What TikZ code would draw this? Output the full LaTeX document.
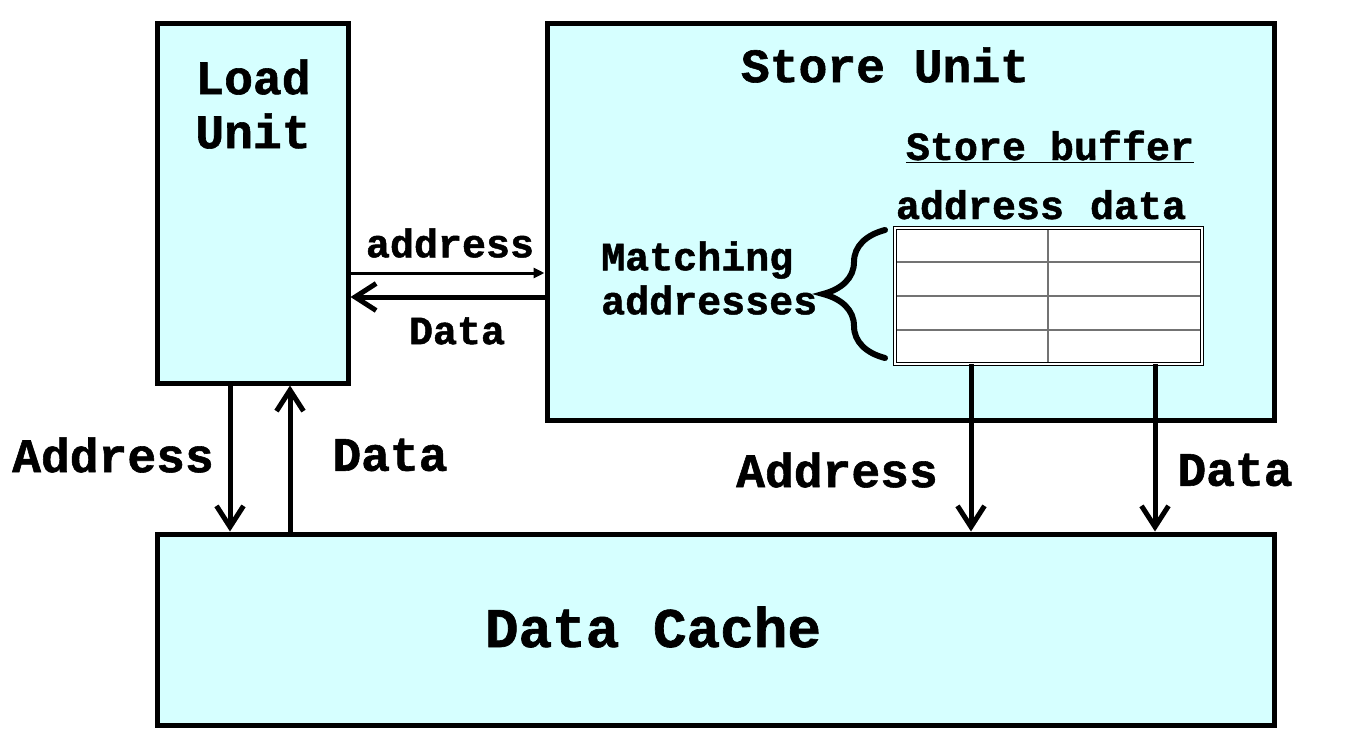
\documentclass[tikz,border=0pt]{standalone}
\usepackage{fontspec}
\setmonofont{Liberation Mono}[BoldFeatures={FakeBold=1.2}]
\usetikzlibrary{arrows.meta,decorations.pathreplacing}
\definecolor{unitfill}{RGB}{214,255,255}

\begin{document}
\begin{tikzpicture}[x=1pt,y=-1pt,
  unit/.style={draw, line width=5pt, fill=unitfill, inner sep=0pt},
  big/.style={font=\ttfamily\bfseries\fontsize{48}{54}\selectfont, align=center, inner sep=0pt},
  small/.style={font=\ttfamily\bfseries\fontsize{40}{44}\selectfont, align=left, inner sep=0pt},
  bus/.style={line width=5pt, -{Straight Barb[length=21pt,width=27pt]}},
  thinbus/.style={line width=3pt, -{Triangle[length=11pt,width=10pt]}},
  cellline/.style={draw=black!55, line width=2pt}]
  \fill[white] (0,0) rectangle (1352,752);
  \useasboundingbox (0,0) rectangle (1352,752);

  % units
  \node[unit, minimum width=191pt, minimum height=359pt] (load) at (252.5,203.5) {};
  \node[unit, minimum width=727pt, minimum height=396pt] (store) at (910.5,222) {};
  \node[unit, minimum width=1117pt, minimum height=191pt] (cache) at (715.5,629.5) {};

  \node[big] (loadtxt) at (253,104) {Load\\Unit};
  \node[big] (storetxt) at (885,65) {Store Unit};
  \node[big, font=\ttfamily\bfseries\fontsize{56}{60}\selectfont] (cachetxt) at (653,627) {Data Cache};

  % store buffer
  \node[small, anchor=base] (buftxt) at (1050,160) {\underline{Store buffer}};
  \node[small, anchor=base] (addrtxt) at (980,219) {address};
  \node[small, anchor=base] (datatxt) at (1138,219) {data};
  \node[fill=white, minimum width=307pt, minimum height=136pt, inner sep=0pt] (buf) at (1048.5,296) {};
  \foreach \y in {262,296,330}
    \draw[cellline] (896,\y) -- (1201,\y);
  \draw[cellline] (1048,229) -- (1048,363);
  \draw[black, line width=1pt, double=white, double distance=1.5pt] (buf.north west) rectangle (buf.south east);

  \draw[line width=6pt, line cap=round, decorate, decoration={brace, amplitude=62pt}] (885,358) -- (885,230);
  \node[small, anchor=west] (matchtxt) at (601,278) {Matching\\addresses};

  % connections
  \coordinate (ha) at (0,273);
  \coordinate (hd) at (0,297);
  \coordinate (la) at (230,0);
  \coordinate (lu) at (290,0);
  \coordinate (sa) at (971,0);
  \coordinate (sd) at (1155,0);

  \draw[thinbus] (load.east |- ha) -- (store.west |- ha);
  \draw[bus] (store.west |- hd) -- (load.east |- hd);
  \draw[bus] (load.south -| la) -- (cache.north -| la);
  \draw[bus] (cache.north -| lu) -- (load.south -| lu);
  \draw[bus] (buf.south -| sa) -- (cache.north -| sa);
  \draw[bus] (buf.south -| sd) -- (cache.north -| sd);

  \node[small] (l1) at (450,243) {address};
  \node[small] (l2) at (457,331) {Data};
  \node[big] (l3) at (113,455) {Address};
  \node[big] (l4) at (390,455) {Data};
  \node[big] (l5) at (837,470) {Address};
  \node[big] (l6) at (1235,470) {Data};
\end{tikzpicture}
\end{document}
